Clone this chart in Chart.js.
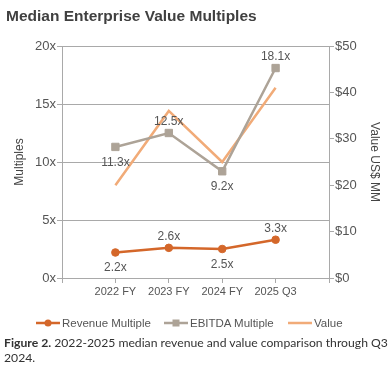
<!DOCTYPE html>
<html>
<head>
<meta charset="utf-8">
<script src="https://cdn.jsdelivr.net/npm/chart.js@4/dist/chart.umd.min.js"></script>
<style>
  html, body { margin: 0; padding: 0; background: #fff; }
  #wrap { position: relative; width: 390px; height: 380px; overflow: hidden; }
  #c { position: absolute; left: 0; top: 0; }
  #title { position: absolute; left: 6px; top: 7px; font: bold 15.5px "Liberation Sans", Arial, sans-serif; color: #404040; white-space: nowrap; }
  #legend { position: absolute; left: 0; top: 315px; width: 390px; font: 11.5px "Liberation Sans", Arial, sans-serif; color: #555; }
  .li { position: absolute; top: 0; height: 16px; line-height: 16px; white-space: nowrap; }
  .li svg { position: absolute; left: 0; top: 3px; }
  .li span { position: absolute; left: 26px; top: 0; }
  #caption { position: absolute; left: 4px; top: 335px; width: 386px; font: 12.2px Lato, "Open Sans", sans-serif; color: #333; line-height: 15px; }
</style>
</head>
<body>
<div id="wrap">
  <canvas id="c" width="390" height="380"></canvas>
  <div id="title">Median Enterprise Value Multiples</div>
  <div id="legend"></div>
  <div id="caption"><b>Figure 2.</b> 2022-2025 median revenue and value comparison through Q3 2024.</div>
</div>
<script>
const categories = ['', '2022 FY', '2023 FY', '2024 FY', '2025 Q3', ''];
const revenueMultiple = [null, 2.2, 2.6, 2.5, 3.3, null];
const ebitdaMultiple = [null, 11.3, 12.5, 9.2, 18.1, null];
const valueUSD = [null, 20, 36, 25, 41, null];
const revenueLabelPos = [null, 'below', 'above', 'below', 'above', null];
const ebitdaLabelPos = [null, 'below', 'above', 'below', 'above', null];
const seriesNames = ['Revenue Multiple', 'EBITDA Multiple', 'Value'];
const leftTicks = [0, 5, 10, 15, 20];
const rightTicks = [0, 10, 20, 30, 40, 50];

const C_REV = '#d4672a', C_EB = '#ada397', C_VAL = '#f1ab78';
const GRID = '#a9a9a9';
const TXT = '#555555';

const labelPlugin = {
  id: 'pointLabels',
  afterDatasetsDraw(chart) {
    const ctx = chart.ctx;
    ctx.save();
    ctx.font = '12px "Liberation Sans", Arial, sans-serif';
    ctx.fillStyle = TXT;
    ctx.textAlign = 'center';
    ctx.textBaseline = 'middle';
    [[0, revenueLabelPos], [1, ebitdaLabelPos]].forEach(([di, pos]) => {
      const meta = chart.getDatasetMeta(di);
      const data = chart.data.datasets[di].data;
      meta.data.forEach((pt, i) => {
        if (data[i] == null) return;
        const dy = pos[i] === 'above' ? -11.5 : 15.5;
        ctx.fillText(data[i].toFixed(1) + 'x', pt.x, pt.y + dy);
      });
    });
    ctx.restore();
  }
};

const tickFont = { family: '"Liberation Sans", Arial, sans-serif', size: 13 };

new Chart(document.getElementById('c'), {
  type: 'line',
  data: {
    labels: categories,
    datasets: [
      { label: seriesNames[0], data: revenueMultiple, yAxisID: 'y', borderColor: C_REV, backgroundColor: C_REV,
        borderWidth: 2.5, pointStyle: 'circle', pointRadius: 3.8, pointBorderWidth: 1, tension: 0 },
      { label: seriesNames[1], data: ebitdaMultiple, yAxisID: 'y', borderColor: C_EB, backgroundColor: C_EB,
        borderWidth: 2.5, pointStyle: 'rect', pointRadius: 5.2, pointBorderWidth: 1, tension: 0 },
      { label: seriesNames[2], data: valueUSD, yAxisID: 'y1', borderColor: C_VAL, backgroundColor: C_VAL,
        borderWidth: 2.5, pointRadius: 0, tension: 0 }
    ]
  },
  options: {
    responsive: false,
    animation: false,
    events: [],
    layout: { padding: { top: 46, bottom: 78, left: 0, right: 0 } },
    plugins: { legend: { display: false }, title: { display: false }, tooltip: { enabled: false } },
    scales: {
      x: {
        offset: false,
        grid: { drawOnChartArea: false, drawTicks: true, tickLength: 5, color: GRID },
        border: { color: GRID, width: 1 },
        ticks: { color: TXT, font: { family: '"Liberation Sans", Arial, sans-serif', size: 11 }, padding: 2, maxRotation: 0, autoSkip: false },
        afterFit(s) { s.height = 24; }
      },
      y: {
        position: 'left', min: 0, max: 20,
        afterBuildTicks(s) { s.ticks = leftTicks.map(v => ({ value: v })); },
        grid: { color: GRID, lineWidth: 1, drawTicks: true, tickLength: 5 },
        border: { color: GRID, width: 1 },
        ticks: { color: TXT, font: tickFont, padding: 1, callback: v => v + 'x' },
        title: { display: true, text: 'Multiples', color: '#444', font: { family: '"Liberation Sans", Arial, sans-serif', size: 12 }, padding: { top: 12, bottom: 0 } },
        afterFit(s) { s.width = 62; }
      },
      y1: {
        position: 'right', min: 0, max: 50,
        afterBuildTicks(s) { s.ticks = rightTicks.map(v => ({ value: v })); },
        grid: { drawOnChartArea: false, drawTicks: true, tickLength: 5, color: GRID },
        border: { color: GRID, width: 1 },
        ticks: { color: TXT, font: tickFont, padding: 1, callback: v => '$' + v },
        title: { display: true, text: 'Value US$ MM', color: '#444', font: { family: '"Liberation Sans", Arial, sans-serif', size: 12 }, padding: { top: 8, bottom: 0 } },
        afterFit(s) { s.width = 61; }
      }
    }
  },
  plugins: [labelPlugin]
});

// legend
const legend = document.getElementById('legend');
const legendItems = [
  { name: seriesNames[0], color: C_REV, marker: 'circle', x: 36 },
  { name: seriesNames[1], color: C_EB, marker: 'rect', x: 164 },
  { name: seriesNames[2], color: C_VAL, marker: 'none', x: 288 }
];
legendItems.forEach(it => {
  const d = document.createElement('div');
  d.className = 'li';
  d.style.left = it.x + 'px';
  let m = '';
  if (it.marker === 'circle') m = `<circle cx="12" cy="5" r="3.5" fill="${it.color}"/>`;
  if (it.marker === 'rect') m = `<rect x="8.5" y="1.5" width="7" height="7" fill="${it.color}"/>`;
  d.innerHTML = `<svg width="24" height="10"><line x1="0" y1="5" x2="24" y2="5" stroke="${it.color}" stroke-width="2.5"/>${m}</svg><span></span>`;
  d.querySelector('span').textContent = it.name;
  legend.appendChild(d);
});
</script>
</body>
</html>
